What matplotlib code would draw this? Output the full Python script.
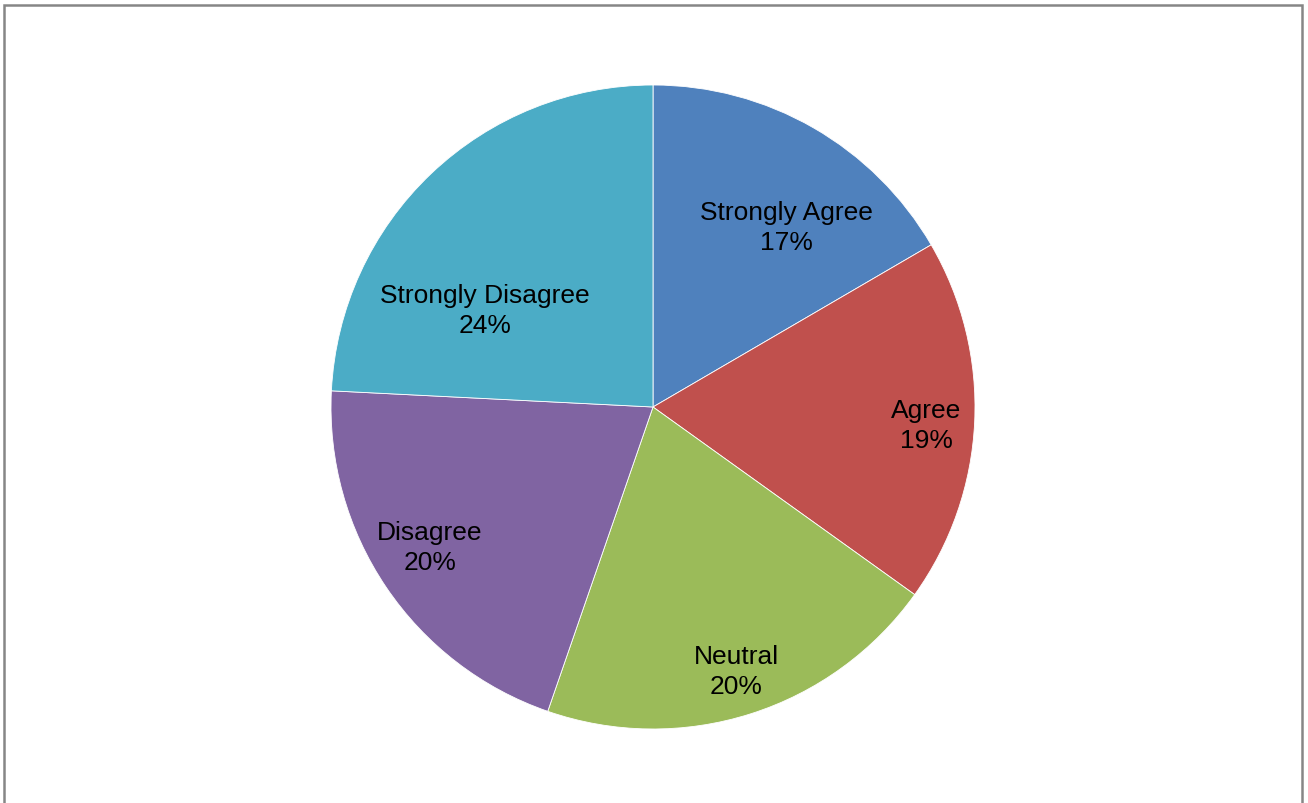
import matplotlib
matplotlib.use("Agg")
import matplotlib.pyplot as plt
from matplotlib.patches import Rectangle

categories = ["Strongly Agree", "Agree", "Neutral", "Disagree", "Strongly Disagree"]
values = [16.6, 18.3, 20.4, 20.5, 24.2]
pct_labels = ["17%", "19%", "20%", "20%", "24%"]
colors = ["#4F81BD", "#C0504D", "#9BBB59", "#8064A2", "#4BACC6"]

# label positions in units of the pie radius (layout only)
label_pos = [(0.413, 0.559), (0.848, -0.056), (0.258, -0.820), (-0.693, -0.435), (-0.522, 0.301)]

W, H = 1308, 804
fig = plt.figure(figsize=(W / 100, H / 100), dpi=100)
fig.patch.set_facecolor("white")

# outer frame
fig.add_artist(Rectangle((3.5 / W, -0.01), (1302 - 3.5) / W, (H - 6) / H + 0.01,
                         transform=fig.transFigure, fill=False,
                         edgecolor="#868686", linewidth=1.8))

cx, cy, r = 653, 408, 322
ax = fig.add_axes([(cx - r) / W, (H - cy - r) / H, 2 * r / W, 2 * r / H])
ax.pie(values, colors=colors, startangle=90, counterclock=False, radius=1.0,
       wedgeprops=dict(edgecolor="white", linewidth=0.6))
ax.set_xlim(-1, 1)
ax.set_ylim(-1, 1)
ax.set_aspect("equal")
ax.axis("off")

for cat, pct, (x, y) in zip(categories, pct_labels, label_pos):
    ax.text(x, y, f"{cat}\n{pct}", ha="center", va="center", fontsize=19,
            family="Liberation Sans", color="black", linespacing=1.35)

fig.savefig("out.png", dpi=100)
